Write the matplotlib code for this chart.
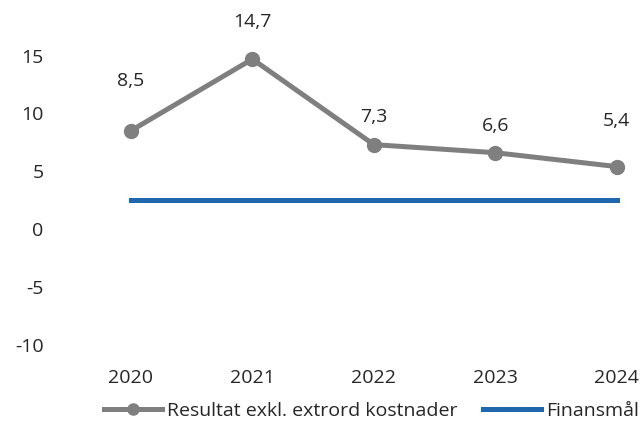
import matplotlib.pyplot as plt

years = [2020, 2021, 2022, 2023, 2024]
resultat = [8.5, 14.7, 7.3, 6.6, 5.4]
finansmal = [2.5, 2.5, 2.5, 2.5, 2.5]
labels = ['8,5', '14,7', '7,3', '6,6', '5,4']
label_offsets = [36, 27, 20, 19, 33]  # points above marker
yticks = [-10, -5, 0, 5, 10, 15]

plt.rcParams['font.family'] = ['Open Sans', 'DejaVu Sans']
plt.rcParams['font.size'] = 14
plt.rcParams['axes.unicode_minus'] = False
text_col = '#262626'

fig = plt.figure(figsize=(6.43, 4.28), dpi=100)
ax = fig.add_axes([0.128, 0.141, 0.869, 0.783])

ax.plot(years, finansmal, color='#1f68ad', lw=3.6, solid_capstyle='projecting',
        label='Finansmål', zorder=2)
ax.plot(years, resultat, color='#7f7f7f', lw=3.6, marker='o', markersize=10,
        label='Resultat exkl. extrord kostnader', zorder=3)

for x, y, s, off in zip(years, resultat, labels, label_offsets):
    ax.annotate(s, (x, y), xytext=(0, off), textcoords='offset points',
                ha='center', va='center', color=text_col)

ax.set_xlim(2019.6, 2024.2)
ax.set_ylim(-12, 17)
ax.set_xticks(years)
ax.set_yticks(yticks)
ax.tick_params(axis='y', length=0, pad=28, colors=text_col)
ax.tick_params(axis='x', length=0, pad=1, colors=text_col)
for sp in ax.spines.values():
    sp.set_visible(False)

h, l = ax.get_legend_handles_labels()
fig.legend(h[::-1], l[::-1], loc='center', bbox_to_anchor=(0.578, 0.04),
           ncol=2, frameon=False, handlelength=3.0, handletextpad=0.25,
           columnspacing=1.3, labelcolor=text_col, markerscale=0.8)

fig.savefig('out.png', dpi=100)
